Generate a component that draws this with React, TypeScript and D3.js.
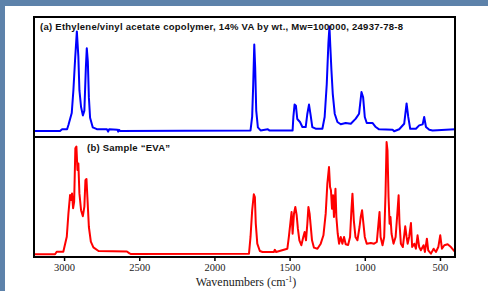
import React, { useEffect, useRef } from 'react';
import { select, scaleLinear, line, axisBottom } from 'd3';

// panel (a): reference spectrum
const blueWn = [3200, 3027, 3013, 2980, 2971, 2949, 2938, 2927, 2915, 2905, 2898, 2887, 2875, 2865, 2855, 2849, 2842, 2835, 2827, 2809, 2782, 2715, 2707, 2700, 2645, 2640, 2635, 2627,
  1760, 1749, 1742, 1735, 1729, 1722, 1711, 1693, 1645, 1635, 1480, 1475, 1467, 1458, 1449, 1431, 1415, 1393, 1382, 1371, 1360, 1349, 1327, 1282, 1267, 1253, 1242, 1235, 1229, 1222, 1213, 1200,
  1182, 1160, 1127, 1093, 1060, 1038, 1022, 1011, 1000, 987, 949, 927, 905, 815, 805, 771, 738, 722, 711, 698, 660, 638, 615, 605, 593, 571, 549, 400]
const blueAbs = [5, 5, 6.5, 6.5, 10, 20, 39, 64, 88, 67, 39, 25, 18, 22, 58, 74, 63, 33, 16, 8, 6.5, 6.5, 4.5, 6.5, 6, 4.5, 6, 5,
  5.5, 17, 44, 77, 58, 22, 8, 5.5, 6.5, 5.5, 5.5, 16.7, 27, 26, 15, 12.5, 8.3, 8.3, 19.4, 27, 18, 8.3, 6.9, 6.9, 16.7, 44, 78, 92, 75, 56, 36, 19.4,
  12.5, 10.6, 11.7, 11, 15.3, 19.4, 37.5, 33, 16.7, 11.7, 11.7, 8.3, 6.4, 6, 4.8, 6.5, 11, 28, 16.7, 6.9, 6.9, 9.7, 10.5, 16.7, 8.3, 6, 5.5, 6.5]

// panel (b): sample spectrum
const redWn = [3200, 3060, 3049, 3005, 2982, 2971, 2960, 2953, 2947, 2940, 2933, 2925, 2918, 2911, 2905, 2898, 2887, 2875, 2865, 2858, 2851, 2845, 2835, 2822, 2805, 2771, 2582, 2565, 2555,
  1770, 1760, 1749, 1738, 1731, 1725, 1715, 1698, 1680, 1605, 1598, 1590, 1515, 1505, 1493, 1487, 1480, 1471, 1462, 1453, 1445, 1435, 1422, 1409, 1400, 1391, 1382, 1375, 1367, 1360, 1351, 1338, 1315,
  1293, 1275, 1260, 1249, 1238, 1231, 1225, 1218, 1211, 1205, 1195, 1189, 1180, 1171, 1160, 1149, 1138, 1127, 1111, 1098, 1089, 1082, 1073, 1062, 1049, 1035, 1027, 1018, 1009, 1000, 987,
  960, 938, 920, 909, 902, 895, 882, 871, 862, 855, 849, 842, 835, 829, 822, 809, 795, 782, 775, 769, 760, 747, 731, 722, 715, 705, 693, 685, 671, 660, 649, 638, 627, 609, 600, 587, 578, 560,
  542, 527, 511, 498, 487, 471, 449, 427, 400]
const redAbs = [2.3, 2.3, 4.4, 4.4, 16.9, 36.4, 51.7, 47.5, 53, 40.6, 46, 90.6, 92, 72.5, 78, 53, 39, 34, 42, 64, 65, 50, 25, 12.8, 8, 5, 4.6, 3, 2.5,
  2.8, 16.7, 38.9, 52.3, 50, 27.8, 11.1, 5, 4.2, 4.2, 6, 4.2, 6.9, 16.7, 30.6, 37.5, 19.4, 36.1, 41.7, 34.8, 23.6, 13.9, 9.8, 16.7, 20.8, 13.9, 27.8, 41.7, 36.1, 26.4, 13.9, 7.8, 6.9,
  11.1, 18.1, 36.1, 61.1, 75, 58.3, 55.6, 40.3, 51.4, 33.3, 56.9, 33.3, 19.4, 11.1, 16.7, 11.1, 16.7, 10.6, 10, 16.7, 38.9, 52.8, 30.6, 16.7, 13.9, 25, 33.3, 38.9, 27.8, 16.7, 11.1,
  11.7, 11.1, 12.5, 27.8, 37.5, 16.7, 9.8, 16.7, 52.8, 95.8, 88.9, 50, 27.8, 33.3, 19.4, 11.1, 16.7, 38.9, 51.4, 27.8, 11.1, 8.3, 25.6, 16.7, 11.1, 16.7, 28.3, 8.3, 11.1, 6.9, 18.1, 8.3, 5.6, 9.8, 4.2, 15.3, 5.6, 2.8,
  6.9, 4.2, 8.3, 18.1, 6.9, 9.8, 10.6, 8.3, 4.2]

const tickValues = [3000, 2500, 2000, 1500, 1000, 500]

const titleA = '(a) Ethylene/vinyl acetate copolymer, 14% VA by wt., Mw=100000, 24937-78-8'
const titleB = '(b) Sample \u201cEVA\u201d'

const dims = { width: 488, height: 291, left: 34, right: 455, top: 17, mid: 137, bottom: 257 }

function App() {
  const axisRef = useRef<SVGGElement | null>(null)

  const x = scaleLinear().domain([3200, 400]).range([dims.left, dims.right])
  const yA = scaleLinear().domain([0, 100]).range([dims.mid, dims.top])
  const yB = scaleLinear().domain([0, 100]).range([dims.bottom, dims.mid])

  const lineA = line<number>().x((d, i) => x(blueWn[i])).y(d => yA(d))
  const lineB = line<number>().x((d, i) => x(redWn[i])).y(d => yB(d))

  useEffect(() => {
    const g = select(axisRef.current)
    g.selectAll('*').remove()
    g.call(axisBottom(x).tickValues(tickValues).tickSize(3).tickPadding(3).tickFormat(d => `${d}`))
    g.select('.domain').remove()
    g.selectAll('line').attr('stroke', '#000').attr('stroke-width', 1.5)
    g.selectAll('text')
      .attr('font-family', '"Liberation Serif", serif')
      .attr('font-size', 10.5)
      .attr('fill', '#222')
  }, [])

  return (
    <svg width={dims.width} height={dims.height} style={{ position: 'absolute', left: 0, top: 0 }}>
      <rect width={dims.width} height={dims.height} fill="#5d82aa" />
      <rect x={5} y={6} width={dims.width - 5} height={dims.height - 6} fill="#fff" />
      <path d={lineA(blueAbs) ?? ''} fill="none" stroke="#0000ff" strokeWidth={2} strokeLinejoin="round" />
      <path d={lineB(redAbs) ?? ''} fill="none" stroke="#ff0000" strokeWidth={2} strokeLinejoin="round" />
      <rect x={dims.left} y={dims.top} width={dims.right - dims.left} height={dims.bottom - dims.top}
        fill="none" stroke="#000" strokeWidth={2} />
      <line x1={dims.left} x2={dims.right} y1={dims.mid} y2={dims.mid} stroke="#000" strokeWidth={2} />
      <g ref={axisRef} transform={`translate(0, ${dims.bottom + 1})`} />
      <text x={40} y={30} fontFamily='"Liberation Sans", Arial, sans-serif' fontWeight="bold" fontSize={9.5}
        textLength={363} lengthAdjust="spacing" fill="#111">{titleA}</text>
      <text x={87} y={151} fontFamily='"Liberation Sans", Arial, sans-serif' fontWeight="bold" fontSize={9.5}
        textLength={83} lengthAdjust="spacing" fill="#111">{titleB}</text>
      <text x={246} y={286} textAnchor="middle" fontFamily='"Liberation Serif", serif' fontSize={12} fill="#222">
        Wavenumbers (cm<tspan fontSize={8} dy={-4}>-1</tspan><tspan dy={4}>)</tspan>
      </text>
    </svg>
  )
}

export default App;
